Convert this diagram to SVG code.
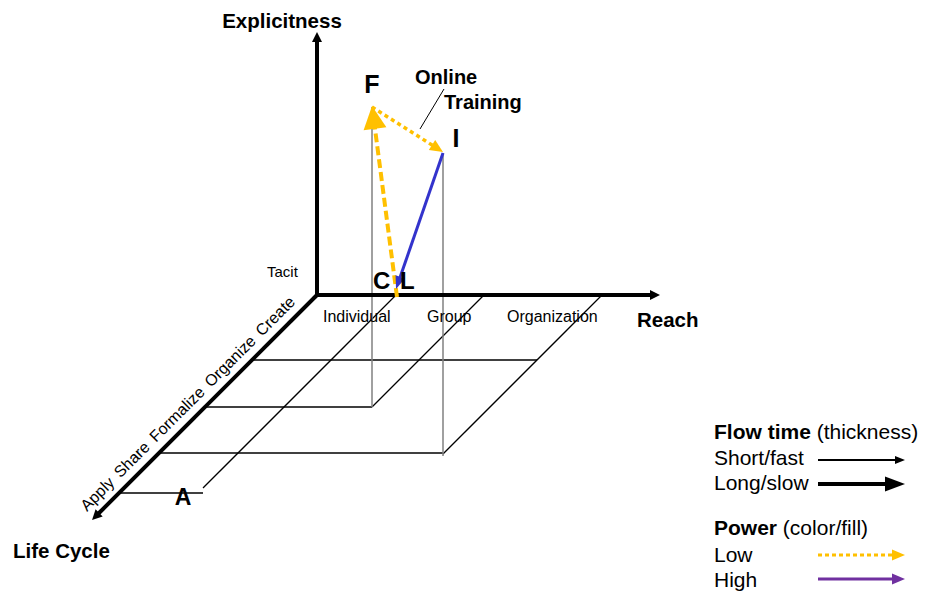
<svg xmlns="http://www.w3.org/2000/svg" width="925" height="593" viewBox="0 0 925 593">
<style>
text{font-family:"Liberation Sans",Arial,sans-serif;fill:#000}
.b{font-weight:bold}
.ax{fill:none;stroke:#000;stroke-width:4}
.grid{fill:none;stroke:#000;stroke-width:1.3}
.gray{fill:none;stroke:#808080;stroke-width:1.5}
.lbl{font-size:16px}
.lg{font-size:21px}
.dash{fill:none;stroke:#FFC000;stroke-width:4;stroke-dasharray:9 4}
.dot{fill:none;stroke:#FFC000;stroke-width:3.5;stroke-dasharray:4 3.5}
.blue{fill:none;stroke:#3333CC;stroke-width:3}
</style>
<defs>
<marker id="mAx" markerUnits="userSpaceOnUse" orient="auto-start-reverse" markerWidth="1" markerHeight="1" overflow="visible"><path d="M-3,-5 L7,0 L-3,5 z" fill="#000"/></marker>
<marker id="mBigY" markerUnits="userSpaceOnUse" orient="auto" markerWidth="1" markerHeight="1" overflow="visible"><path d="M-3,-11.5 L20,0 L-3,11.5 z" fill="#FFC000"/></marker>
<marker id="mY" markerUnits="userSpaceOnUse" orient="auto" markerWidth="1" markerHeight="1" overflow="visible"><path d="M-2,-6 L11,0 L-2,6 z" fill="#FFC000"/></marker>
<marker id="mB" markerUnits="userSpaceOnUse" orient="auto" markerWidth="1" markerHeight="1" overflow="visible"><path d="M-3,-5 L10,0 L-3,5 z" fill="#3333CC"/></marker>
<marker id="mShort" markerUnits="userSpaceOnUse" orient="auto" markerWidth="1" markerHeight="1" overflow="visible"><path d="M-2,-4 L8,0 L-2,4 z" fill="#000"/></marker>
<marker id="mLong" markerUnits="userSpaceOnUse" orient="auto" markerWidth="1" markerHeight="1" overflow="visible"><path d="M-3,-7.5 L17,0 L-3,7.5 z" fill="#000"/></marker>
<marker id="mLow" markerUnits="userSpaceOnUse" orient="auto" markerWidth="1" markerHeight="1" overflow="visible"><path d="M-2,-5.5 L11,0 L-2,5.5 z" fill="#FFC000"/></marker>
<marker id="mHigh" markerUnits="userSpaceOnUse" orient="auto" markerWidth="1" markerHeight="1" overflow="visible"><path d="M-2,-5.5 L11,0 L-2,5.5 z" fill="#7030A0"/></marker>
</defs>

<g id="grid">
<line class="grid" x1="252" y1="360" x2="537" y2="360"/>
<line class="grid" x1="205" y1="407" x2="372" y2="407"/>
<line class="grid" x1="159" y1="453" x2="443" y2="453"/>
<line class="grid" x1="120" y1="493" x2="203" y2="493"/>
<line class="grid" x1="396" y1="295" x2="203" y2="488"/>
<line class="grid" x1="483" y1="296" x2="372" y2="407"/>
<line class="grid" x1="602" y1="295" x2="443" y2="454"/>
<line class="gray" x1="372" y1="107" x2="372" y2="407"/>
<line class="gray" x1="443" y1="153" x2="443" y2="456"/>
</g>

<g id="axes">
<path class="ax" d="M317,39 L317,295 L653,295" marker-start="url(#mAx)" marker-end="url(#mAx)" stroke-linejoin="miter"/>
<path class="ax" d="M318,294 L97,515" marker-end="url(#mAx)"/>
<text class="b" x="282" y="28" font-size="20.5" text-anchor="middle">Explicitness</text>
<text class="b" x="637" y="327" font-size="20.5">Reach</text>
<text class="b" x="13" y="558" font-size="20.5">Life Cycle</text>
<text x="267" y="277" font-size="15">Tacit</text>
<text class="lbl" x="323" y="322">Individual</text>
<text class="lbl" x="427" y="322">Group</text>
<text class="lbl" x="507" y="322">Organization</text>
<text class="lbl" transform="translate(87,512) rotate(-45)" word-spacing="3">Apply Share Formalize Organize Create</text>
</g>

<g id="connectors">
<line class="dash" x1="397" y1="297" x2="374.6" y2="125.8" marker-end="url(#mBigY)"/>
<line class="dot" x1="372" y1="107" x2="433.7" y2="146.1" marker-end="url(#mY)"/>
<line class="blue" x1="443" y1="153" x2="399.3" y2="279.6" marker-end="url(#mB)"/>
<line stroke="#000" stroke-width="1" x1="444" y1="89" x2="420" y2="129"/>
</g>

<g id="node-F"><text class="b" x="372" y="93" font-size="25" text-anchor="middle">F</text></g>
<g id="node-I"><text class="b" x="456" y="147" font-size="25" text-anchor="middle">I</text></g>
<g id="node-C"><text class="b" x="373" y="289" font-size="24">C</text></g>
<g id="node-L"><text class="b" x="400" y="289" font-size="24">L</text></g>
<g id="node-A"><text class="b" x="183" y="505" font-size="23" text-anchor="middle">A</text></g>
<g id="label-online">
<text class="b" x="415" y="84" font-size="20">Online</text>
<text class="b" x="444" y="109" font-size="20">Training</text>
</g>

<g id="legend">
<text class="lg" x="714" y="439"><tspan class="b">Flow time</tspan> (thickness)</text>
<text class="lg" x="714" y="465">Short/fast</text>
<text class="lg" x="714" y="490">Long/slow</text>
<text class="lg" x="714" y="535"><tspan class="b">Power</tspan> (color/fill)</text>
<text class="lg" x="714" y="562">Low</text>
<text class="lg" x="714" y="587">High</text>
<line stroke="#000" stroke-width="2" x1="818" y1="460" x2="897" y2="460" marker-end="url(#mShort)"/>
<line stroke="#000" stroke-width="4" x1="818" y1="484" x2="888" y2="484" marker-end="url(#mLong)"/>
<line stroke="#FFC000" stroke-width="3" stroke-dasharray="4 3" x1="818" y1="555" x2="894" y2="555" marker-end="url(#mLow)"/>
<line stroke="#7030A0" stroke-width="3" x1="818" y1="579" x2="894" y2="579" marker-end="url(#mHigh)"/>
</g>
</svg>
